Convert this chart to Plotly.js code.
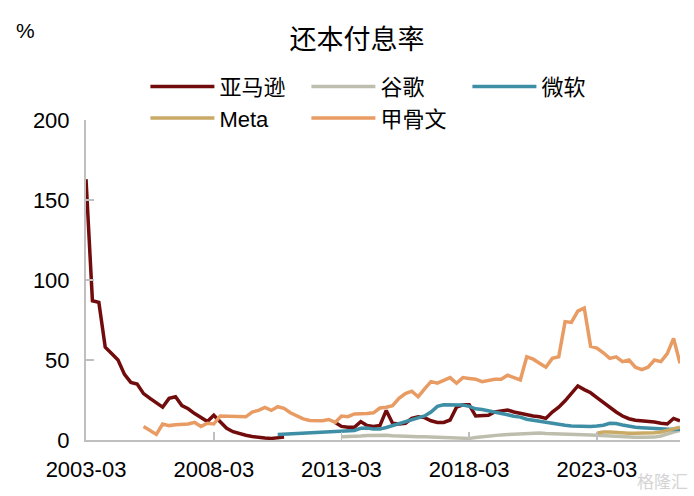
<!DOCTYPE html>
<html>
<head>
<meta charset="utf-8">
<script src="https://cdn.plot.ly/plotly-3.0.1.min.js"></script>
<style>
  html, body { margin: 0; padding: 0; background: #fff; }
  #chart { width: 694px; height: 496px; }
</style>
</head>
<body>
<div id="chart"></div>
<script>
// quarterly observations, 2003-03 onwards (94 quarters)
const firstYear = 2003;
const quarterCount = 94;
const quarters = [];
for (let i = 0; i < quarterCount; i++) {
    const year = firstYear + Math.floor(i / 4);
    const month = [3, 6, 9, 12][i % 4];
    quarters.push(year + "-" + String(month).padStart(2, "0") + "-01");
}

const seriesNames = ["亚马逊", "谷歌", "微软", "Meta", "甲骨文"];
const tickYears = ["2003-03", "2008-03", "2013-03", "2018-03", "2023-03"];

// 还本付息率, %
const amazon = [
    163, 87, 86, 58, 54, 50, 41, 36, 35, 29,
    26, 23, 20.5, 26, 27, 21.5, 19.5, 16.5, 14, 11.5,
    15.5, 11.5, 7.3, 5.2, 4, 3, 2.2, 1.5, 1.2, 1,
    1.2, 1.8, null, null, null, null, null, null, null, 11,
    8.5, 8, 8, 11.5, 9, 8.5, 9, 18.5, 10.5, 10,
    10.5, 13.5, 14.5, 14, 12, 11, 11, 12.5, 20.5, 22,
    22, 15, 15.5, 15.5, 17.5, 18, 18.7, 17.5, 16.5, 15.5,
    15, 14.5, 13.5, 17.5, 20.5, 24.5, 29, 33.8, 31.5, 29.5,
    26.5, 23.5, 20, 17.5, 15, 13.3, 12.3, 12, 11.9, 11.2,
    10.5, 10, 13.5, 12
];

const google = [
    null, null, null, null, null, null, null, null, null, null,
    null, null, null, null, null, null, null, null, null, null,
    null, null, null, null, null, null, null, null, null, null,
    null, null, null, null, null, null, null, null, null, null,
    2, 2, 2.2, 2.5, 2.8, 3, 3, 3, 2.7, 2.4,
    2.2, 2, 2, 2, 1.8, 1.6, 1.5, 1.3, 1.1, 1,
    1, 1.5, 2, 2.2, 3, 3.2, 3.4, 3.6, 3.8, 4,
    4.5, 4.3, 4, 3.8, 3.6, 3.5, 3.4, 3.3, 3.2, 3.1,
    3, 2.7, 2.5, 2.2, 2, 1.8, 1.7, 1.7, 1.7, 1.8,
    2.5, 4, 5, 6
];

const microsoft = [
    null, null, null, null, null, null, null, null, null, null,
    null, null, null, null, null, null, null, null, null, null,
    null, null, null, null, null, null, null, null, null, null,
    3.5, 3.7, 4, 4.2, 4.4, 4.5, 4.6, 4.7, 4.8, 5,
    5.2, 5.6, 6, 7.3, 7.5, 6.8, 6.8, 7.8, 9, 10.5,
    11.5, 13, 14, 15, 17.5, 21, 22, 22, 22, 21.8,
    21, 19.5, 19, 18.3, 17.5, 16.5, 15.8, 14.8, 14.3, 13,
    12.3, 11.8, 11, 10.5, 9.7, 9.2, 8.8, 8.5, 8.3, 8.4,
    8.7, 9.2, 10.4, 10.3, 9.4, 8.6, 8, 7.7, 7.4, 7.2,
    7, 6.8, 6.5, 6.7
];

const meta = [
    null, null, null, null, null, null, null, null, null, null,
    null, null, null, null, null, null, null, null, null, null,
    null, null, null, null, null, null, null, null, null, null,
    null, null, null, null, null, null, null, null, null, null,
    null, null, null, null, null, null, null, null, null, null,
    null, null, null, null, null, null, null, null, null, null,
    null, null, null, null, null, null, null, null, null, null,
    null, null, null, null, null, null, null, null, null, null,
    4.2, 5, 5, 4.6, 4.2, 4.2, 4.2, 4.2, 4.5, 4.6,
    5, 6, 7, 8
];

const oracle = [
    null, null, null, null, null, null, null, null, null, 8.5,
    6, 3.5, 10, 9, 9.5, 9.5, 10, 11, 8.5, 10.5,
    10, 15, 15, 14.8, 15, 14.5, 17.5, 18.5, 20.3, 18.5,
    20.8, 19.8, 17, 15, 13.2, 12.2, 12, 12, 12.8, 11,
    15, 14.6, 16.3, 16.3, 16.5, 17, 20, 20.5, 21.5, 26,
    29, 30.5, 27, 32, 36.5, 35.5, 37.5, 39, 35.5, 39,
    38.5, 38, 36.5, 37.5, 38, 38, 40.5, 39, 37.5, 52,
    50.5, 48, 45.5, 51, 52, 74, 73.5, 80.5, 82.5, 58.5,
    57.5, 54.5, 51, 52, 49, 50, 45.5, 44, 45.5, 50,
    49, 54, 63.5, 48
];

const seriesValues = [amazon, google, microsoft, meta, oracle];
const seriesColors = ["#720C0C", "#BEBEAE", "#3E8FA6", "#C9AA66", "#E89C64"];

const traces = seriesNames.map((name, i) => ({
    x: quarters,
    y: seriesValues[i],
    name: name,
    type: "scatter",
    mode: "lines",
    connectgaps: false,
    line: { color: seriesColors[i], width: 3.5 },
    hoverinfo: "skip"
}));

const fontFamily = "Liberation Sans, Arial, Noto Sans CJK SC, sans-serif";
const axisGrey = "#BFBFBF";

const layout = {
    width: 694,
    height: 496,
    margin: { l: 86, r: 14, t: 120, b: 56 },
    paper_bgcolor: "#ffffff",
    plot_bgcolor: "#ffffff",
    font: { family: fontFamily, color: "#000000", size: 22 },
    title: {
        text: "还本付息率",
        font: { family: fontFamily, size: 27, color: "#000000" },
        x: 357 / 694,
        xanchor: "center",
        y: 1 - 40 / 496,
        yanchor: "middle"
    },
    showlegend: true,
    legend: {
        orientation: "h",
        x: 0.1,
        xanchor: "left",
        y: 1.17,
        yanchor: "top",
        entrywidth: 82,
        entrywidthmode: "pixels",
        itemwidth: 64,
        traceorder: "normal",
        bgcolor: "rgba(0,0,0,0)",
        font: { family: fontFamily, size: 22, color: "#000000" }
    },
    xaxis: {
        type: "date",
        range: [quarters[0], quarters[quarters.length - 1]],
        tickmode: "array",
        tickvals: tickYears.map(t => t + "-01"),
        ticktext: tickYears,
        ticks: "inside",
        ticklen: 8,
        tickwidth: 1.5,
        tickcolor: axisGrey,
        showline: true,
        linecolor: axisGrey,
        linewidth: 2,
        showgrid: false,
        zeroline: false,
        ticklabelstandoff: 9,
        tickfont: { family: fontFamily, size: 22, color: "#000000" },
        fixedrange: true
    },
    yaxis: {
        range: [0, 200],
        tickvals: [0, 50, 100, 150, 200],
        ticks: "inside",
        ticklen: 8,
        tickwidth: 1.5,
        tickcolor: axisGrey,
        showline: true,
        linecolor: axisGrey,
        linewidth: 2,
        showgrid: false,
        zeroline: false,
        ticklabelstandoff: 10,
        tickfont: { family: fontFamily, size: 22, color: "#000000" },
        fixedrange: true
    },
    annotations: [
        {
            text: "%",
            xref: "paper", yref: "paper",
            x: (25 - 86) / 594, y: (440 - 30) / 320,
            xanchor: "center", yanchor: "middle",
            showarrow: false,
            font: { family: fontFamily, size: 21, color: "#000000" }
        },
        {
            text: "格隆汇",
            xref: "paper", yref: "paper",
            x: (662 - 86) / 594, y: (440 - 480) / 320,
            xanchor: "center", yanchor: "middle",
            showarrow: false,
            font: { family: "Noto Sans CJK SC, sans-serif", size: 17, color: "#D4D4D4" }
        }
    ]
};

Plotly.newPlot("chart", traces, layout, { staticPlot: true, displayModeBar: false });
</script>
</body>
</html>
